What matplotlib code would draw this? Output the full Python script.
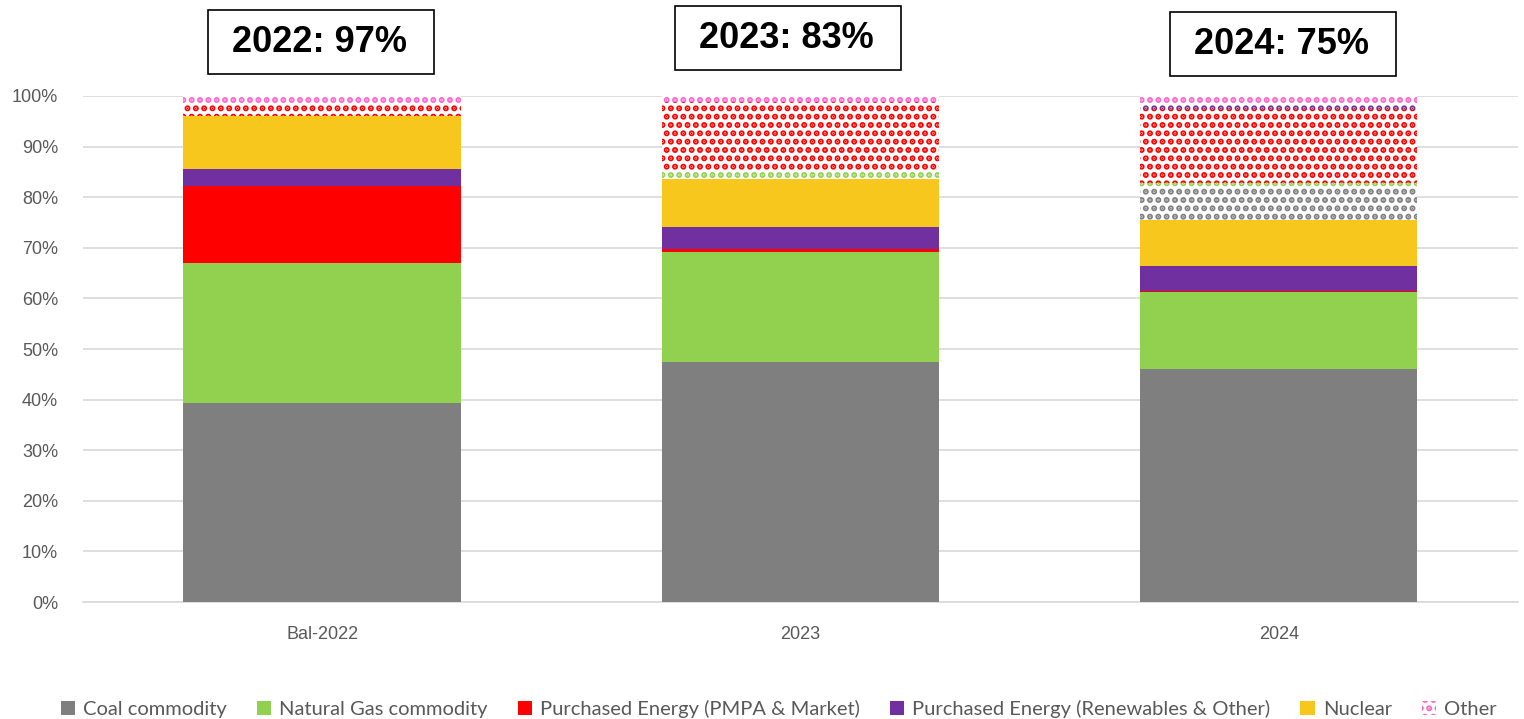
import matplotlib.pyplot as plt
from matplotlib.patches import Patch, Rectangle
from matplotlib.ticker import PercentFormatter

plt.rcParams['font.family'] = ['Liberation Sans', 'DejaVu Sans']
plt.rcParams['hatch.linewidth'] = 3.0

# ---- data (percent of total) ----
categories = ['Bal-2022', '2023', '2024']
coal = [39.3, 47.4, 46.0]
gas = [27.7, 21.8, 15.3]
pmpa = [15.2, 0.6, 0.2]
renew = [3.4, 4.3, 4.9]
nuclear = [10.4, 9.5, 9.1]
coal_open = [0.0, 0.0, 6.3]
gas_open = [0.0, 1.4, 1.0]
pmpa_open = [2.5, 13.8, 14.6]
renew_open = [0.0, 0.0, 1.2]
other = [1.5, 1.2, 1.4]
box_labels = ['2022: 97%', '2023: 83%', '2024: 75%']

c_coal, c_gas, c_red = '#7F7F7F', '#92D050', '#FF0000'
c_pur, c_nuc, c_pink = '#7030A0', '#F7C71E', '#FF66CC'

series = [
    (coal, c_coal, False), (gas, c_gas, False), (pmpa, c_red, False),
    (renew, c_pur, False), (nuclear, c_nuc, False),
    (coal_open, c_coal, True), (gas_open, c_gas, True),
    (pmpa_open, c_red, True), (renew_open, c_pur, True), (other, c_pink, True),
]

fig = plt.figure(figsize=(15.24, 7.19), dpi=100)
ax = fig.add_axes([0.0545, 0.1627, 0.9415, 0.7038])

x = range(len(categories))
bottom = [0.0] * len(categories)
for vals, col, hatched in series:
    if hatched:
        ax.bar(x, vals, 0.58, bottom=bottom, facecolor='white', edgecolor=col,
               hatch='..', linewidth=0, zorder=3)
    else:
        ax.bar(x, vals, 0.58, bottom=bottom, color=col, linewidth=0, zorder=3)
    bottom = [b + v for b, v in zip(bottom, vals)]

ax.set_xlim(-0.5, 2.5)
ax.set_ylim(0, 100)
ax.set_yticks(range(0, 101, 10))
ax.yaxis.set_major_formatter(PercentFormatter(decimals=0))
ax.set_xticks(list(x))
ax.set_xticklabels(categories)
ax.grid(axis='y', color='#D9D9D9', linewidth=1.2, zorder=0)
for s in ['top', 'right', 'left']:
    ax.spines[s].set_visible(False)
ax.spines['bottom'].set_color('#D9D9D9')
ax.spines['bottom'].set_linewidth(1.2)
ax.tick_params(axis='both', length=0, labelsize=13, colors='#595959')
ax.tick_params(axis='x', pad=17)
ax.tick_params(axis='y', pad=18)

# ---- boxed labels above bars ----
box_pos = [(321, 42), (788, 38), (1283, 44)]
W, H = 1524, 719
for (cx, cy), lab in zip(box_pos, box_labels):
    fig.patches.append(Rectangle(((cx - 113) / W, 1 - (cy + 32) / H), 226 / W, 64 / H,
                                 transform=fig.transFigure, facecolor='white',
                                 edgecolor='black', linewidth=1.2))
    fig.text((cx - 2) / W, 1 - cy / H, lab, ha='center', va='center',
             fontsize=26, fontweight='bold')

# ---- legend ----
handles = [
    Patch(facecolor=c_coal, label='Coal commodity'),
    Patch(facecolor=c_gas, label='Natural Gas commodity'),
    Patch(facecolor=c_red, label='Purchased Energy (PMPA & Market)'),
    Patch(facecolor=c_pur, label='Purchased Energy (Renewables & Other)'),
    Patch(facecolor=c_nuc, label='Nuclear'),
    Patch(facecolor='white', edgecolor=c_pink, hatch='..', linewidth=0, label='Other'),
]
fig.legend(handles=handles, loc='center', bbox_to_anchor=(0.511, 0.014), ncol=6,
           frameon=False, handlelength=0.7, handleheight=0.7,
           handletextpad=0.4, columnspacing=1.5, labelcolor='#595959',
           prop={'family': ['Lato', 'DejaVu Sans'], 'size': 14.5})

fig.savefig('out.png', dpi=100)
